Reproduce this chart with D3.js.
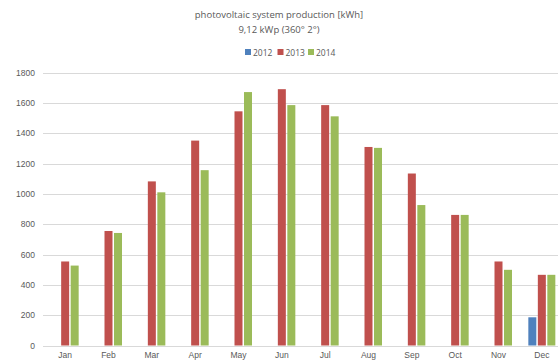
<!DOCTYPE html>
<html>
<head>
<meta charset="utf-8">
<script src="https://cdn.jsdelivr.net/npm/d3@7"></script>
<style>
  html, body { margin: 0; padding: 0; background: #fff; }
  svg { display: block; font-family: "Open Sans", "DejaVu Sans", sans-serif; }
</style>
</head>
<body>
<svg id="chart" width="558" height="363"></svg>
<script>
// Monthly production in kWh
const months = ["Jan","Feb","Mar","Apr","May","Jun","Jul","Aug","Sep","Oct","Nov","Dec"];
const years = ["2012","2013","2014"];
const prod2012 = [null,null,null,null,null,null,null,null,null,null,null,186];
const prod2013 = [554,755,1082,1351,1544,1690,1585,1309,1134,861,554,466];
const prod2014 = [527,742,1010,1156,1671,1585,1511,1303,926,861,499,466];
const yTicks = [0,200,400,600,800,1000,1200,1400,1600,1800];
const colors = ["#4F81BD","#C0504D","#9BBB59"];

const series = [prod2012, prod2013, prod2014];
const svg = d3.select("#chart");
const W = 558, H = 363;

// plot area runs past the right edge of the canvas
const x = d3.scaleBand().domain(months).range([43.5, 563.5]).padding(0);
const y = d3.scaleLinear().domain([0, 1800]).range([345.5, 72.5]);

// grid lines
svg.append("g").selectAll("line").data(yTicks).join("line")
  .attr("x1", 43).attr("x2", W)
  .attr("y1", d => Math.round(y(d)) + 0.5).attr("y2", d => Math.round(y(d)) + 0.5)
  .attr("stroke", "#d9d9d9").attr("stroke-width", 1);

// y axis labels
const yAxis = d3.axisLeft(y).tickValues(yTicks).tickFormat(d3.format("d")).tickSize(0).tickPadding(0);
const gy = svg.append("g").attr("transform", "translate(35,0)").call(yAxis);
gy.select(".domain").remove();
gy.selectAll("text").attr("fill", "#595959").style("font-size", "8.5px");

// x axis labels
const xAxis = d3.axisBottom(x).tickSize(0).tickPadding(0);
const gx = svg.append("g").attr("transform", "translate(0,352)").call(xAxis);
gx.select(".domain").remove();
gx.selectAll("text").attr("fill", "#595959").style("font-size", "8.5px");

// bars
const xs = d3.scaleBand().domain(years).range([0, 28.5]).padding(0);
const groups = svg.append("g").selectAll("g").data(months).join("g")
  .attr("transform", d => `translate(${x(d) + x.bandwidth() / 2 - 14.25},0)`);
groups.selectAll("rect")
  .data((m, i) => years.map((yr, j) => ({yr, j, v: series[j][i]})).filter(d => d.v != null))
  .join("rect")
  .attr("x", d => xs(d.yr) + 0.75)
  .attr("width", 8)
  .attr("y", d => y(d.v))
  .attr("height", d => y(0) - y(d.v))
  .attr("fill", d => colors[d.j]);

// title
svg.append("text").attr("x", 279).attr("y", 18).attr("text-anchor", "middle")
  .attr("fill", "#595959").style("font-size", "9.5px")
  .text("photovoltaic system production [kWh]");
svg.append("text").attr("x", 279).attr("y", 33).attr("text-anchor", "middle")
  .attr("fill", "#595959").style("font-size", "9.5px")
  .text("9,12 kWp (360° 2°)");

// legend
const legendX = [245, 277.5, 308];
const lg = svg.append("g").selectAll("g").data(years).join("g")
  .attr("transform", (d, i) => `translate(${legendX[i]},49)`);
lg.append("rect").attr("width", 6).attr("height", 6).attr("fill", (d, i) => colors[i]);
lg.append("text").attr("x", 8).attr("y", 6.5).attr("fill", "#595959")
  .style("font-size", "8.5px").text(d => d);
</script>
</body>
</html>
